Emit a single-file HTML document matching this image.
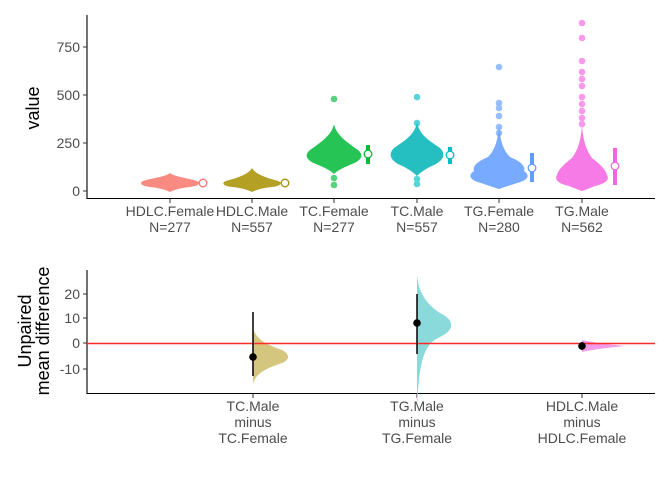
<!DOCTYPE html>
<html><head><meta charset="utf-8"><style>body{margin:0;background:#fff}svg{display:block}text{font-family:"Liberation Sans",sans-serif}</style></head>
<body>
<svg width="672" height="480" viewBox="0 0 672 480">
<rect width="672" height="480" fill="#fff"/>
<g stroke="#000" stroke-width="1.1">
<line x1="87" y1="15" x2="87" y2="199"/>
<line x1="87" y1="198.5" x2="655" y2="198.5"/>
</g>
<g stroke="#333" stroke-width="1">
<line x1="83" y1="47" x2="87" y2="47"/><line x1="83" y1="95" x2="87" y2="95"/><line x1="83" y1="143" x2="87" y2="143"/><line x1="83" y1="191" x2="87" y2="191"/>
<line x1="170" y1="199" x2="170" y2="203"/><line x1="252" y1="199" x2="252" y2="203"/><line x1="334" y1="199" x2="334" y2="203"/><line x1="417" y1="199" x2="417" y2="203"/><line x1="499" y1="199" x2="499" y2="203"/><line x1="582" y1="199" x2="582" y2="203"/>
</g>
<g font-size="14" fill="#4d4d4d" text-anchor="end">
<text x="80" y="52">750</text><text x="80" y="100">500</text><text x="80" y="148">250</text><text x="80" y="196">0</text>
</g>
<g font-size="14" fill="#4d4d4d" text-anchor="middle">
<text x="170" y="216">HDLC.Female</text><text x="170" y="232">N=277</text>
<text x="252" y="216">HDLC.Male</text><text x="252" y="232">N=557</text>
<text x="334" y="216">TC.Female</text><text x="334" y="232">N=277</text>
<text x="417" y="216">TC.Male</text><text x="417" y="232">N=557</text>
<text x="499" y="216">TG.Female</text><text x="499" y="232">N=280</text>
<text x="582" y="216">TG.Male</text><text x="582" y="232">N=562</text>
</g>
<text transform="translate(39,108) rotate(-90)" font-size="18" text-anchor="middle" fill="#000">value</text>

<g opacity="0.85">
<path fill="#F8766D" d="M170,173 C175,177 188,178 197,181 C201,183 199,186 190,187 C180,188 174,190 170,192 C166,190 160,188 150,187 C141,186 139,183 143,181 C152,178 165,177 170,173Z"/>
<path fill="#A89000" d="M252,168 C256,175 268,178 278,181 C283,183 281,186 272,187 C262,188 256,190 252,192 C248,190 242,188 232,187 C223,186 221,183 226,181 C236,178 248,175 252,168Z"/>
<path fill="#00BA38" d="M334,124 C336,135 348,143 358,150 C364,155 362,160 352,164 C345,167 338,170 334,174 C330,170 323,167 316,164 C306,160 304,155 310,150 C320,143 332,135 334,124Z"/>
<path fill="#00B4B8" d="M417,122 C419,135 430,141 440,148 C446,154 444,160 434,165 C427,168 421,172 417,176 C413,172 407,168 400,165 C390,160 388,154 394,148 C404,141 415,135 417,122Z"/>
<path fill="#619CFF" d="M499,125 C500,140 503,150 510,157 C520,161 526,166 524,171 C530,175 529,180 517,183 C508,186 502,188 499,189 C496,188 490,186 481,183 C469,180 468,175 474,171 C472,166 478,161 488,157 C495,150 498,140 499,125Z"/>
<path fill="#F564E3" d="M582,125 C583,140 586,150 592,158 C600,164 606,170 607,175 C610,180 605,184 595,186 C590,188 585,190 582,191 C579,190 574,188 569,186 C559,184 554,180 557,175 C558,170 564,164 572,158 C578,150 581,140 582,125Z"/>
</g>
<g opacity="0.65" stroke="none">
<circle cx="334" cy="99" r="3.3" fill="#00BA38"/><circle cx="334" cy="178" r="3.3" fill="#00BA38"/><circle cx="334" cy="185" r="3.3" fill="#00BA38"/>
<circle cx="417" cy="97" r="3.3" fill="#00BFC4"/><circle cx="417" cy="123" r="3.3" fill="#00BFC4"/><circle cx="417" cy="179" r="3.3" fill="#00BFC4"/><circle cx="417" cy="184" r="3.3" fill="#00BFC4"/>
<circle cx="499" cy="67" r="3.3" fill="#619CFF"/><circle cx="499" cy="103" r="3.3" fill="#619CFF"/><circle cx="499" cy="108" r="3.3" fill="#619CFF"/><circle cx="499" cy="116" r="3.3" fill="#619CFF"/><circle cx="499" cy="127" r="3.3" fill="#619CFF"/><circle cx="499" cy="133" r="3.3" fill="#619CFF"/>
<circle cx="582" cy="23" r="3.3" fill="#F564E3"/><circle cx="582" cy="38" r="3.3" fill="#F564E3"/><circle cx="582" cy="61" r="3.3" fill="#F564E3"/><circle cx="582" cy="72" r="3.3" fill="#F564E3"/><circle cx="582" cy="79" r="3.3" fill="#F564E3"/><circle cx="582" cy="86" r="3.3" fill="#F564E3"/><circle cx="582" cy="97" r="3.3" fill="#F564E3"/><circle cx="582" cy="104" r="3.3" fill="#F564E3"/><circle cx="582" cy="111" r="3.3" fill="#F564E3"/><circle cx="582" cy="118" r="3.3" fill="#F564E3"/><circle cx="582" cy="124" r="3.3" fill="#F564E3"/>
</g>
<g stroke-width="4">
<line x1="368" y1="145" x2="368" y2="164" stroke="#00BA38"/>
<line x1="450" y1="147" x2="450" y2="164" stroke="#00BFC4"/>
<line x1="532" y1="153" x2="532" y2="182" stroke="#619CFF"/>
<line x1="615" y1="148" x2="615" y2="185" stroke="#F564E3"/>
</g>
<g fill="#fff" stroke-width="1.3">
<circle cx="203" cy="183" r="3.8" stroke="#F8766D"/>
<circle cx="285" cy="183" r="3.8" stroke="#A89000"/>
<circle cx="368" cy="154" r="3.8" stroke="#00BA38"/>
<circle cx="450" cy="155" r="3.8" stroke="#00BFC4"/>
<circle cx="532" cy="168" r="3.8" stroke="#619CFF"/>
<circle cx="615" cy="166" r="3.8" stroke="#F564E3"/>
</g>

<g stroke="#000" stroke-width="1.1">
<line x1="87" y1="270" x2="87" y2="394"/>
<line x1="87" y1="393.5" x2="655" y2="393.5"/>
</g>
<g stroke="#333" stroke-width="1">
<line x1="83" y1="294" x2="87" y2="294"/><line x1="83" y1="318" x2="87" y2="318"/><line x1="83" y1="343" x2="87" y2="343"/><line x1="83" y1="369" x2="87" y2="369"/>
<line x1="253" y1="394" x2="253" y2="398"/><line x1="417" y1="394" x2="417" y2="398"/><line x1="582" y1="394" x2="582" y2="398"/>
</g>
<g font-size="14" fill="#4d4d4d" text-anchor="end">
<text x="80" y="299">20</text><text x="80" y="323">10</text><text x="80" y="348">0</text><text x="80" y="374">-10</text>
</g>
<g font-size="14" fill="#4d4d4d" text-anchor="middle">
<text x="253" y="411">TC.Male</text><text x="253" y="427">minus</text><text x="253" y="443">TC.Female</text>
<text x="417" y="411">TG.Male</text><text x="417" y="427">minus</text><text x="417" y="443">TG.Female</text>
<text x="582" y="411">HDLC.Male</text><text x="582" y="427">minus</text><text x="582" y="443">HDLC.Female</text>
</g>
<text transform="translate(31,331) rotate(-90)" font-size="18" text-anchor="middle" fill="#000"><tspan x="0" y="0">Unpaired</tspan><tspan x="0" y="18">mean difference</tspan></text>

<path fill="#D4C67F" d="M253,328 C256,340 268,345 282,350 C290,354 290,360 282,363 C268,368 256,372 253,384Z"/>
<path fill="#8ADADB" d="M417,275 C419,295 428,305 440,313 C455,320 455,330 440,337 C428,343 419,350 417,410Z"/>
<path fill="#F39BE8" d="M582,340 C590,342 605,344 625,346 C605,348 590,350 582,352Z"/>
<line x1="87" y1="343.5" x2="655" y2="343.5" stroke="#FF2A2A" stroke-width="1.5"/>
<g stroke="#000" stroke-width="1.5">
<line x1="253" y1="312" x2="253" y2="376"/>
<line x1="417" y1="294" x2="417" y2="354"/>
<line x1="582" y1="342" x2="582" y2="350"/>
</g>
<g fill="#000">
<circle cx="253" cy="357" r="3.8"/><circle cx="417" cy="323" r="3.8"/><circle cx="582" cy="346" r="3.8"/>
</g>
</svg>
</body></html>
